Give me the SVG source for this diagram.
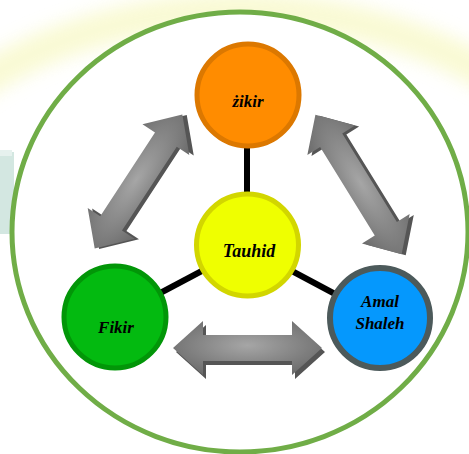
<svg xmlns="http://www.w3.org/2000/svg" width="469" height="454" viewBox="0 0 469 454">
<defs>
<style>
.lbl{font-family:"Liberation Serif","Times New Roman",serif;font-weight:bold;font-style:italic;font-size:17px;fill:#000;text-anchor:middle}
.conn{stroke:#000;stroke-width:6;fill:none}
.arr{fill:url(#ag)}
.sh{fill:#555}
</style>
<radialGradient id="ag" cx="0.5" cy="0.45" r="0.6">
<stop offset="0" stop-color="#a6a6a6"/>
<stop offset="1" stop-color="#6c6c6c"/>
</radialGradient>
<filter id="blur" x="-20%" y="-20%" width="140%" height="140%"><feGaussianBlur stdDeviation="9"/></filter>
</defs>
<rect width="469" height="454" fill="#fff"/>
<g id="background">
<ellipse cx="240" cy="330" rx="411" ry="320" fill="none" stroke="#f6f7b8" stroke-width="34" opacity="0.6" filter="url(#blur)"/>
<rect x="0" y="152" width="14" height="82" fill="#d3e7e1"/>
<rect x="0" y="150" width="12" height="6" fill="#e6f1ee"/>
</g>
<ellipse id="frame" cx="240" cy="232" rx="228" ry="220" fill="#fff" stroke="#70ad47" stroke-width="5"/>
<g id="connectors">
<line class="conn" x1="247" y1="100" x2="247" y2="245"/>
<line class="conn" x1="247" y1="247" x2="115" y2="317"/>
<line class="conn" x1="247" y1="247" x2="380" y2="318"/>
<g id="arrow-left" transform="translate(138.5,181.5) rotate(-56.8)">
<path class="sh" transform="translate(2,4)" d="M-80,0 L-50,-28 L-50,-13 L50,-13 L50,-28 L80,0 L50,28 L50,13 L-50,13 L-50,28 Z" transform-origin="0 0"/>
<path class="arr" d="M-80,0 L-50,-28 L-50,-13 L50,-13 L50,-28 L80,0 L50,28 L50,13 L-50,13 L-50,28 Z"/>
</g>
<g id="arrow-right" transform="translate(358.5,184.5) rotate(58.3)">
<path class="sh" transform="translate(3,-3)" d="M-82,0 L-52,-28 L-52,-13 L52,-13 L52,-28 L82,0 L52,28 L52,13 L-52,13 L-52,28 Z"/>
<path class="arr" d="M-82,0 L-52,-28 L-52,-13 L52,-13 L52,-28 L82,0 L52,28 L52,13 L-52,13 L-52,28 Z"/>
</g>
<g id="arrow-bottom" transform="translate(247.5,348)">
<path class="sh" transform="translate(3,4)" d="M-74.5,0 L-44.5,-27 L-44.5,-13 L44.5,-13 L44.5,-27 L74.5,0 L44.5,27 L44.5,13 L-44.5,13 L-44.5,27 Z"/>
<path class="arr" d="M-74.5,0 L-44.5,-27 L-44.5,-13 L44.5,-13 L44.5,-27 L74.5,0 L44.5,27 L44.5,13 L-44.5,13 L-44.5,27 Z"/>
</g>
</g>
<g id="zikir">
<circle cx="248" cy="95" r="51" fill="#ff8c00" stroke="#dc7800" stroke-width="5"/>
<text class="lbl" x="248" y="107">żikir</text>
</g>
<g id="tauhid">
<circle cx="247.5" cy="245" r="51" fill="#efff00" stroke="#d2d600" stroke-width="5"/>
<text class="lbl" x="249" y="257" style="font-size:18px">Tauhid</text>
</g>
<g id="fikir">
<circle cx="115" cy="317" r="51" fill="#03ba10" stroke="#029608" stroke-width="5"/>
<text class="lbl" x="116" y="333">Fikir</text>
</g>
<g id="amal-shaleh">
<circle cx="380" cy="318" r="50" fill="#0598fd" stroke="#4c5a5b" stroke-width="6"/>
<text class="lbl" x="380" y="307">Amal</text>
<text class="lbl" x="380" y="329">Shaleh</text>
</g>
</svg>
